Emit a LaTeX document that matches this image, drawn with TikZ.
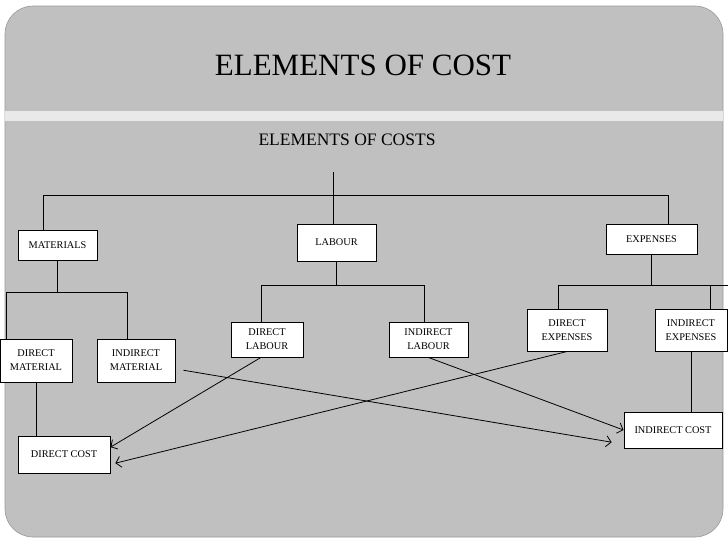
\documentclass[tikz,border=0pt]{standalone}
\usepackage{fontspec}
\setmainfont{Liberation Serif}
\usetikzlibrary{arrows.meta}
\definecolor{slidegray}{HTML}{C0C0C0}
\definecolor{bandgray}{HTML}{E9E9E9}
\begin{document}
\begin{tikzpicture}[x=1pt,y=-1pt,line width=1pt,
  box/.style={draw,fill=white,align=center,inner sep=0pt,font=\fontsize{10.3}{14}\selectfont},
  >={Straight Barb[length=5pt,width=11pt]}]
\useasboundingbox (0,0) rectangle (728,546);
\filldraw[fill=slidegray,draw=gray!80,line width=0.6pt,rounded corners=28pt] (5,6) rectangle (723,537);
\fill[bandgray] (5,111) rectangle (723,121);
\node[font=\fontsize{31}{31}\selectfont] (title) at (363,65) {ELEMENTS OF COST};
\node[font=\fontsize{17.5}{18}\selectfont] (sub) at (347,140) {ELEMENTS OF COSTS};
% boxes
\node[box,minimum width=79,minimum height=30] (mat) at (57.5,245) {MATERIALS};
\node[box,minimum width=79,minimum height=37] (lab) at (336.5,242.5) {LABOUR};
\node[box,minimum width=91,minimum height=30] (exp) at (651.5,239) {EXPENSES};
\node[box,minimum width=72,minimum height=43] (dmat) at (36,360.5) {DIRECT\\MATERIAL};
\node[box,minimum width=78,minimum height=43] (imat) at (136,360.5) {INDIRECT\\MATERIAL};
\node[box,minimum width=72,minimum height=35] (dlab) at (267,339.5) {DIRECT\\LABOUR};
\node[box,minimum width=79,minimum height=35] (ilab) at (428.5,339.5) {INDIRECT\\LABOUR};
\node[box,minimum width=80,minimum height=42] (dexp) at (567,330) {DIRECT\\EXPENSES};
\node[box,minimum width=72,minimum height=42] (iexp) at (691,330) {INDIRECT\\EXPENSES};
\node[box,minimum width=92,minimum height=37] (dcost) at (64,454.5) {DIRECT COST};
\node[box,minimum width=98,minimum height=36] (icost) at (673,430) {INDIRECT COST};
% tree
\coordinate (root) at (333,172);
\coordinate (busL) at (43,195);
\coordinate (busR) at (668,195);
\draw (busL) -- (busR);
\draw (root) -- (root |- lab.north);
\draw (busL) -- (busL |- mat.north);
\draw (busR) -- (busR |- exp.north);
\coordinate (matL) at (6,292);
\coordinate (matR) at (127,292);
\draw (mat.south) -- (mat.south |- matL);
\draw (matL) -- (matR);
\draw (matL) -- (matL |- dmat.north);
\draw (matR) -- (matR |- imat.north);
\coordinate (labL) at (261,285);
\coordinate (labR) at (424,285);
\draw (lab.south) -- (lab.south |- labL);
\draw (labL) -- (labR);
\draw (labL) -- (labL |- dlab.north);
\draw (labR) -- (labR |- ilab.north);
\coordinate (expL) at (558,285);
\coordinate (expM) at (710,285);
\coordinate (expR) at (728,285);
\draw (exp.south) -- (exp.south |- expL);
\draw (expL) -- (expR);
\draw (expL) -- (expL |- dexp.north);
\draw (expM) -- (expM |- iexp.north);
\draw (dmat.south) -- (dmat.south |- dcost.north);
\draw (iexp.south) -- (iexp.south |- icost.north);
% cost arrows
\draw[->,line width=0.8pt] (dlab.-109) -- (dcost.9);
\draw[->,line width=0.8pt,shorten >=5pt] (dexp.south) -- (dcost.-12);
\draw[->,line width=0.8pt,shorten <=8pt,shorten >=12pt] (imat.-12) -- (icost.-164);
\draw[->,line width=0.8pt] (ilab.south) -- (icost.west);
\end{tikzpicture}
\end{document}
